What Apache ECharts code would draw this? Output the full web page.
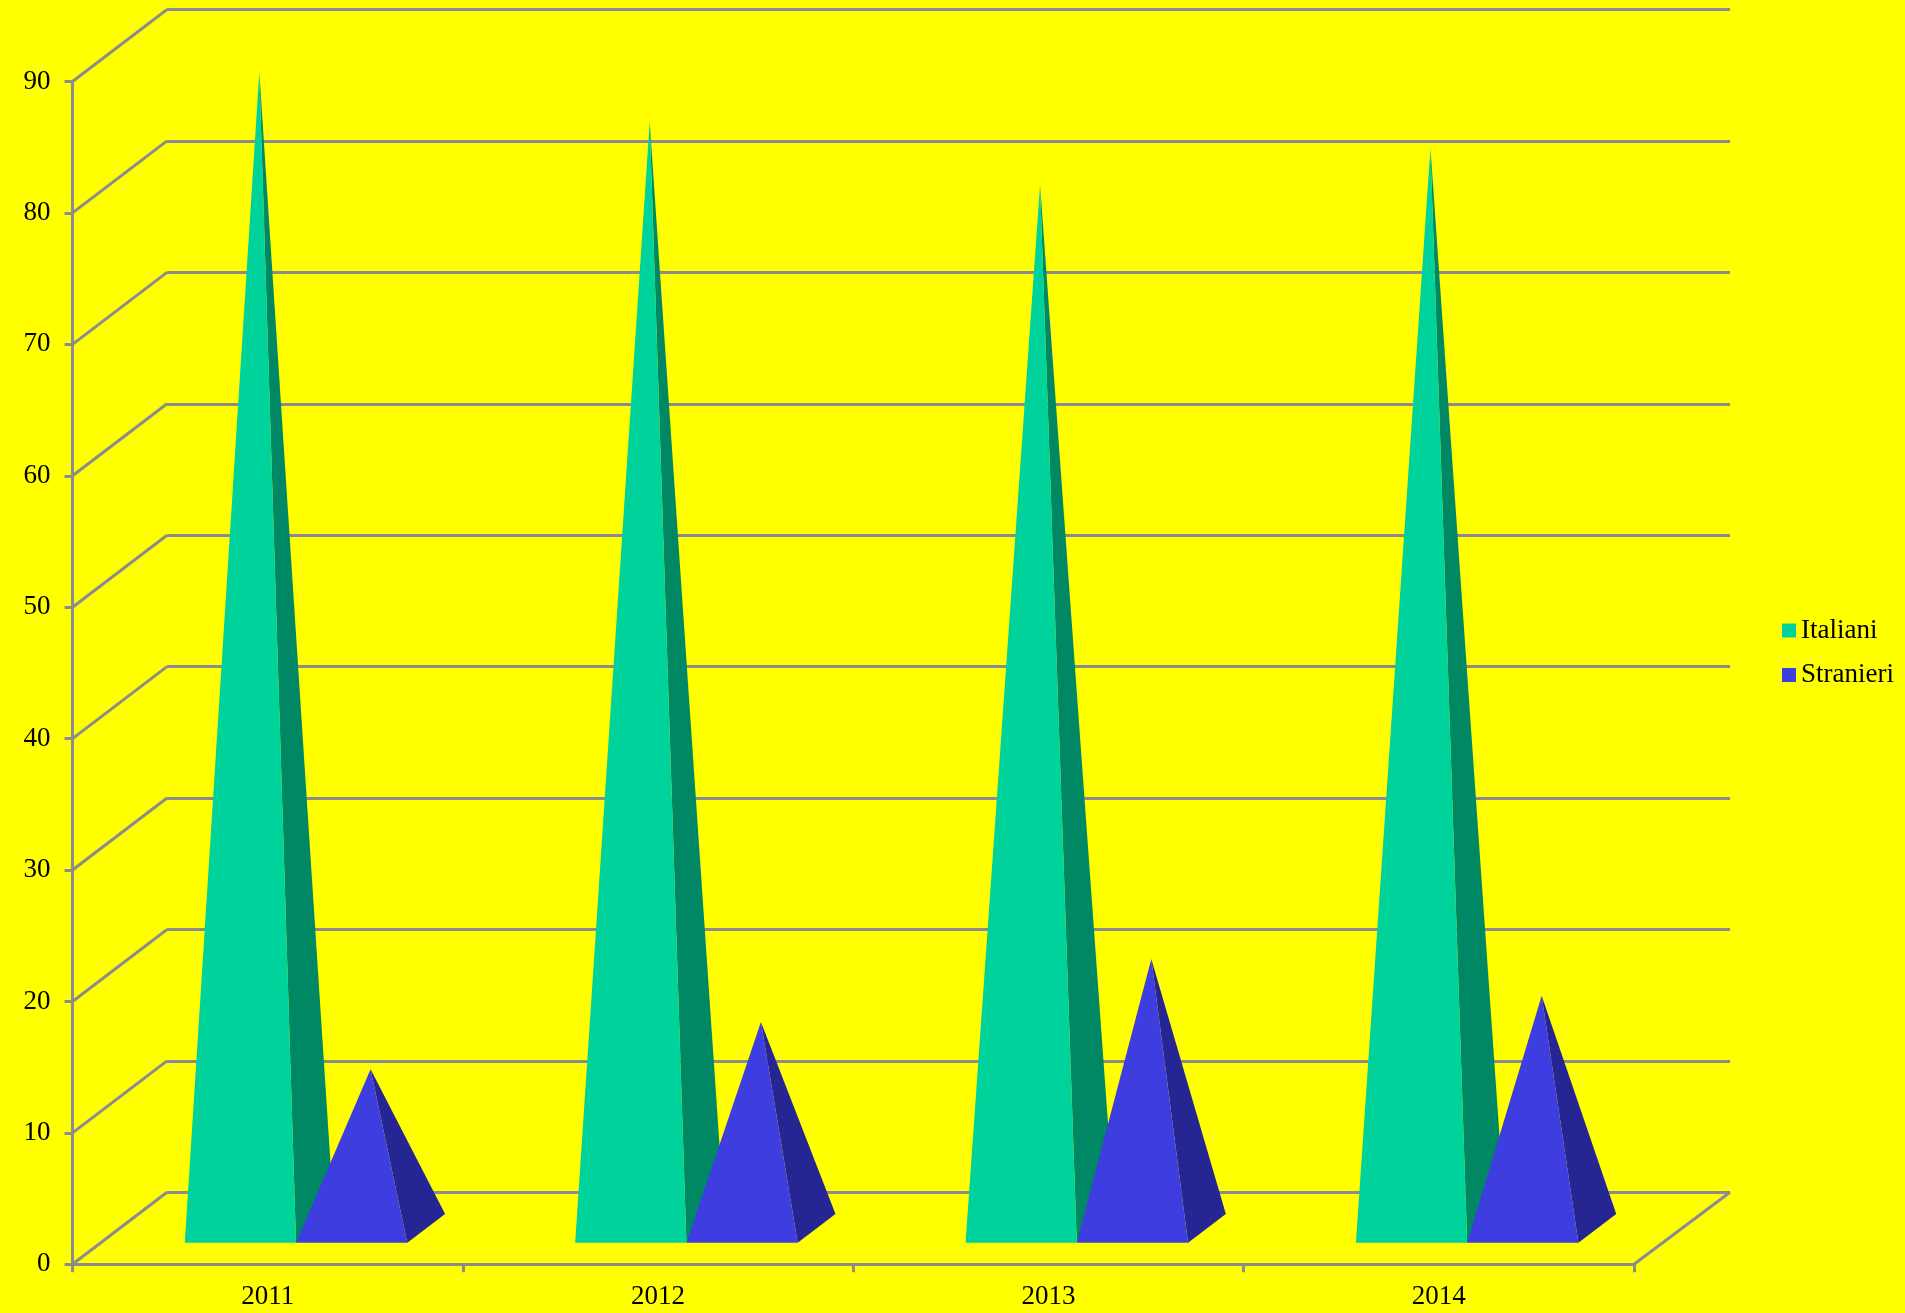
<!DOCTYPE html>
<html>
<head>
<meta charset="utf-8">
<title>Italiani e Stranieri</title>
<script src="https://cdn.jsdelivr.net/npm/echarts@6/dist/echarts.min.js"></script>
<style>
  html, body { margin: 0; padding: 0; background: #ffff00; }
  #chart { width: 1905px; height: 1313px; }
</style>
</head>
<body>
<div id="chart"></div>
<script>
const categories = ['2011', '2012', '2013', '2014'];
const italiani = [88, 84.2, 79.4, 82.2];
const stranieri = [12.1, 15.7, 20.5, 17.7];
const yTicks = [0, 10, 20, 30, 40, 50, 60, 70, 80, 90];

const gridColor = '#8c8c8c';
const gridWidth = 3;
const fontName = '"Liberation Serif", "Times New Roman", serif';

// offset in px from the front plane to the back wall (fake 3d)
const depthX = 94.5;
const depthY = -72;

const myChart = echarts.init(document.getElementById('chart'));

// pyramid: front face + right side face, base sits at 30%..70% of the depth
const pyramid = (slot, front, side) => (params, api) => {
  const i = api.value(0);
  const bandW = api.size([1, 0])[0];
  const center = api.coord([i, 0]);
  const top = api.coord([i, api.value(1)]);
  const barW = bandW * 0.285;
  const left = center[0] - bandW / 2 + bandW * 0.215 + slot * barW;
  const fl = [left + depthX * 0.3, center[1] + depthY * 0.3];
  const fr = [fl[0] + barW, fl[1]];
  const br = [left + barW + depthX * 0.7, center[1] + depthY * 0.7];
  const apex = [left + barW / 2 + depthX * 0.5, top[1] + depthY * 0.5];
  return {
    type: 'group',
    children: [
      { type: 'polygon', shape: { points: [fr, br, apex] }, style: { fill: side } },
      { type: 'polygon', shape: { points: [fl, fr, apex] }, style: { fill: front } }
    ]
  };
};

const option = {
  backgroundColor: '#ffff00',
  animation: false,
  legend: {
    orient: 'vertical',
    left: 1782,
    top: 617,
    padding: 0,
    itemWidth: 14,
    itemHeight: 14,
    itemGap: 17.5,
    icon: 'rect',
    textStyle: { fontFamily: fontName, fontSize: 27, color: '#000' },
    data: ['Italiani', 'Stranieri']
  },
  grid: [
    { left: 72.5, top: 81.5, width: 1561.5, height: 1182.8 },
    { left: 167, top: 9.5, width: 1563, height: 1182.8 }
  ],
  xAxis: [
    {
      type: 'category',
      gridIndex: 0,
      data: categories,
      axisLine: { lineStyle: { color: gridColor, width: gridWidth } },
      axisTick: { show: true, alignWithLabel: false, length: 8, lineStyle: { color: gridColor, width: gridWidth } },
      axisLabel: { color: '#000', fontFamily: fontName, fontSize: 27, margin: 19 }
    },
    { type: 'value', gridIndex: 1, show: false }
  ],
  yAxis: [
    {
      type: 'value',
      gridIndex: 0,
      min: 0,
      max: 90,
      interval: 10,
      splitLine: { show: false },
      axisLine: { show: true, lineStyle: { color: gridColor, width: gridWidth } },
      axisTick: { show: true, length: 8, lineStyle: { color: gridColor, width: gridWidth } },
      axisLabel: { color: '#000', fontFamily: fontName, fontSize: 27, margin: 22 }
    },
    {
      type: 'value',
      gridIndex: 1,
      min: 0,
      max: 90,
      interval: 10,
      axisLine: { show: false },
      axisTick: { show: false },
      axisLabel: { show: false },
      splitLine: { show: true, lineStyle: { color: gridColor, width: gridWidth, type: 'solid' } }
    }
  ],
  series: [
    {
      // side wall lines, one per tick, plus the floor edge on the right
      type: 'custom',
      name: 'wall',
      silent: true,
      xAxisIndex: 0,
      yAxisIndex: 0,
      z: 1,
      data: yTicks.map(v => [v]),
      encode: { y: 0 },
      renderItem: (params, api) => {
        const y = api.coord([0, api.value(0)])[1];
        const x0 = 72.5;
        const lines = [{ x1: x0, y1: y, x2: x0 + depthX, y2: y + depthY }];
        if (api.value(0) === 0) {
          lines.push({ x1: 1634, y1: y, x2: 1730, y2: y + depthY });
        }
        return {
          type: 'group',
          children: lines.map(s => ({
            type: 'line',
            shape: s,
            style: { stroke: gridColor, lineWidth: gridWidth }
          }))
        };
      }
    },
    {
      type: 'custom',
      name: 'Italiani',
      xAxisIndex: 0,
      yAxisIndex: 0,
      z: 3,
      itemStyle: { color: '#00d29c' },
      data: italiani.map((v, i) => [i, v]),
      encode: { x: 0, y: 1 },
      renderItem: pyramid(0, '#00d29c', '#008865')
    },
    {
      type: 'custom',
      name: 'Stranieri',
      xAxisIndex: 0,
      yAxisIndex: 0,
      z: 4,
      itemStyle: { color: '#3d3de0' },
      data: stranieri.map((v, i) => [i, v]),
      encode: { x: 0, y: 1 },
      renderItem: pyramid(1, '#3d3de0', '#252594')
    }
  ]
};

myChart.setOption(option);
</script>
</body>
</html>
